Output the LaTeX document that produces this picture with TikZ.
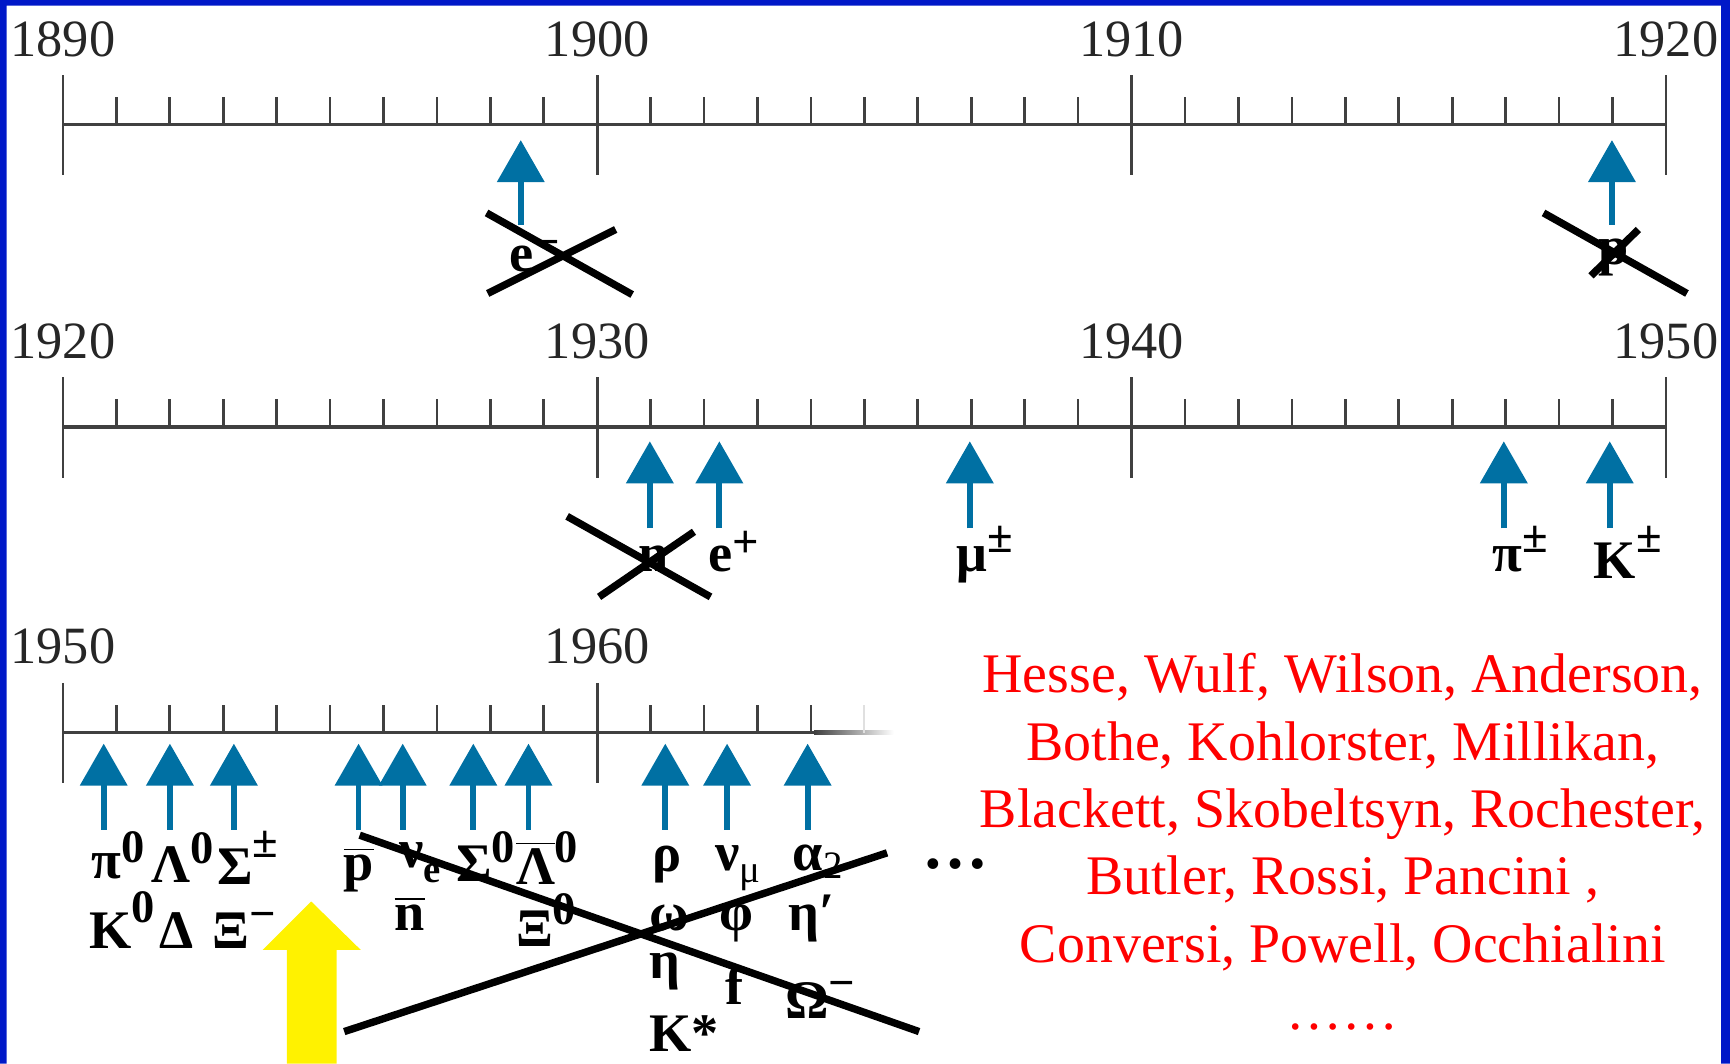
\documentclass[tikz,border=0pt]{standalone}
\usepackage{fontspec}
\setmainfont{Liberation Serif}
\usetikzlibrary{arrows.meta}
\definecolor{frameblue}{RGB}{0,24,200}
\definecolor{hitblue}{RGB}{0,112,163}
\newcommand\sups[2][5pt]{\raisebox{#1}{\fontsize{12}{12}\selectfont #2}}
\newcommand\subs[2][4pt]{\raisebox{-#1}{\fontsize{10}{10}\selectfont #2}}
\newcommand\ovl[1]{$\overline{\mbox{#1}}$}
\begin{document}
\begin{tikzpicture}[x=.01cm,y=-.01cm,
  every node/.style={inner sep=0pt},
  year/.style={font=\fontsize{13.5}{16}\selectfont,anchor=base,text=black!85},
  ptl/.style={font=\fontsize{14}{16}\selectfont\bfseries,anchor=base west},
  timeline/.style={line width=.85pt,draw=black!75},
  yeartick/.style={line width=.7pt,draw=black!75},
  hit/.style={draw=hitblue,line width=1.5pt,-{Triangle[width=4.2mm,length=3.8mm]}},
  strike/.style={line width=1.9pt}]
  \path[use as bounding box] (0,0) rectangle (1568,964);
  % frame
  \fill[frameblue] (0,0) rectangle (1568,5) (0,0) rectangle (6,964) (1560,0) rectangle (1568,964);
  % time axes, 48.43 per year
  \foreach \y/\a [count=\r] in {113/1890,387/1920} {
    \draw[timeline] (57,\y)--(1510,\y);
    \foreach \k in {1,...,29} \draw[yeartick] (57+48.43*\k,\y-25)--(57+48.43*\k,\y);
    \foreach \k in {0,1,2,3} {
      \pgfmathtruncatemacro\yr{\a+10*\k}
      \draw[yeartick] (57+484.3*\k,\y-45)--(57+484.3*\k,\y+46);
      \node[year] (yr\r\k) at (57+484.3*\k,\y-62) {\yr};
    }
  }
  \draw[timeline] (57,664)--(740,664);
  \shade[left color=black!75,right color=white] (738,662.5) rectangle (810,665.5);
  \foreach \k in {1,...,9,11,12,13,14} \draw[yeartick] (57+48.43*\k,639)--(57+48.43*\k,664);
  \draw[yeartick,draw=black!12] (783,639)--(783,664);
  \foreach \k in {0,1} {
    \pgfmathtruncatemacro\yr{1950+10*\k}
    \draw[yeartick] (57+484.3*\k,619)--(57+484.3*\k,710);
    \node[year] (yr3\k) at (57+484.3*\k,601) {\yr};
  }
  % discoveries
  \foreach \x in {472,1461} \draw[hit] (\x,204)--(\x,127);
  \foreach \x in {589,652,879,1363,1459} \draw[hit] (\x,479)--(\x,400);
  \foreach \x in {94,154,212,325,365,429,479,603,659,732} \draw[hit] (\x,752)--(\x,674);
  % particles
  \node[ptl] (elec) at (461,246) {e\sups[3.5pt]{−}};
  \node[ptl] (prot) at (1448,240) {p};
  \node[ptl] (neut) at (578,518) {n};
  \node[ptl] (posi) at (641,518) {e\sups[3.5pt]{+}};
  \node[ptl] (muon) at (866,518) {μ\sups[5pt]{±}};
  \node[ptl] (pion) at (1352,518) {π\sups[5pt]{±}};
  \node[ptl] (kaon) at (1444,524) {K\sups[6.5pt]{±}};
  \node[ptl] (pi0) at (82,796) {π\sups[4pt]{0}};
  \node[ptl] (lam0) at (137,800) {Λ\sups{0}};
  \node[ptl] (sigpm) at (196,802) {Σ\sups[7pt]{±}};
  \node[ptl] (k0) at (80,860) {K\sups[6.8pt]{0}};
  \node[ptl] (delta) at (144,860) {Δ};
  \node[ptl] (xim) at (192,860) {Ξ\sups[5pt]{−}};
  \node[ptl] (pbar) at (311,798) {\ovl{p}};
  \node[ptl] (nue) at (361,786) {ν\subs{e}};
  \node[ptl] (nbar) at (357,843) {\ovl{n}};
  \node[ptl] (sig0) at (413,799) {Σ\sups[4.8pt]{0}};
  \node[ptl] (lamb0) at (467,802) {\ovl{Λ}\sups[5.7pt]{0}};
  \node[ptl] (xi0) at (467,858) {Ξ\sups[5.7pt]{0}};
  \node[ptl] (rho) at (591,790) {ρ};
  \node[ptl] (numu) at (648,789) {ν\subs[3pt]{\mdseries μ}};
  \node[ptl] (a2) at (718,789) {α\subs[2pt]{\mdseries 2}};
  \node[ptl] (omega) at (588,843) {ω};
  \node[ptl] (phi) at (651,843) {φ};
  \node[ptl] (etap) at (714,843) {η′};
  \node[ptl] (eta) at (588,887) {η};
  \node[ptl] (fmes) at (657,910) {f};
  \node[ptl] (omm) at (711,923) {Ω\sups[5pt]{−}};
  \node[ptl] (kstar) at (588,953) {K*};
  \node[ptl,anchor=base] (more) at (866,787) {\fontsize{17}{17}\selectfont …};
  % not from cosmic rays
  \draw[strike] (441,193)--(573,267) (442,266)--(558,208);
  \draw[strike] (1399,193)--(1529,266) (1442,250)--(1485,208);
  \draw[strike] (514,468)--(644,541) (543,541)--(629,482);
  \draw[strike] (326,757)--(833,935) (312,935)--(804,773);
  % accelerators
  \fill[yellow] (282,817)--(327,861)--(305,861)--(305,964)--(260,964)--(260,861)--(238,861)--cycle;
  % names
  \foreach \t [count=\i] in {{Hesse, Wulf, Wilson, Anderson,},{Bothe, Kohlorster, Millikan,},
    {Blackett, Skobeltsyn, Rochester,},{Butler, Rossi, Pancini ,},{Conversi, Powell, Occhialini},{……}}
    \node[anchor=base,text=red,font=\fontsize{14.4}{17}\selectfont] (who\i) at (1217,567+61*\i) {\t};
\end{tikzpicture}
\end{document}
